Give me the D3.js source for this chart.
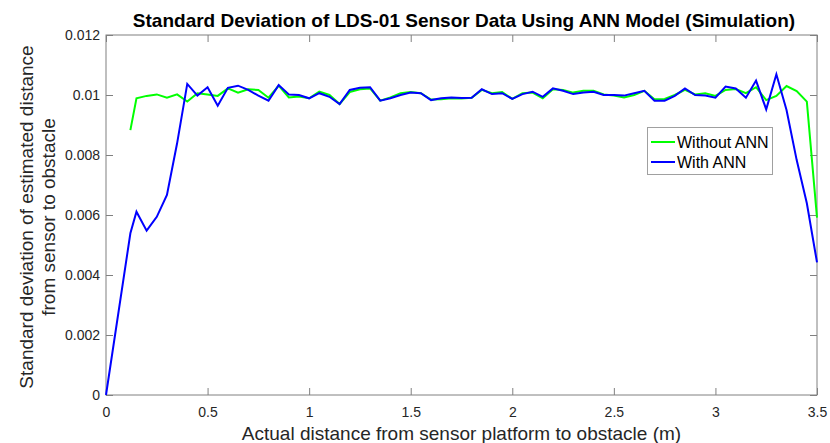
<!DOCTYPE html>
<html><head><meta charset="utf-8">
<script src="https://cdn.jsdelivr.net/npm/d3@7"></script>
<style>body{margin:0;background:#fff}svg{display:block}text{font-family:"Liberation Sans",Arial,sans-serif}</style>
</head><body><svg id="c" width="830" height="443"></svg>
<script>
const xTicks=[0,0.5,1,1.5,2,2.5,3,3.5];
const yTicks=[0,0.002,0.004,0.006,0.008,0.01,0.012];
const xWith=[0,0.12,0.15,0.2,0.25,0.3,0.35,0.4,0.45,0.5,0.55,0.6,0.65,0.7,0.75,0.8,0.85,0.9,0.95,1.0,1.05,1.1,1.15,1.2,1.25,1.3,1.35,1.4,1.45,1.5,1.55,1.6,1.65,1.7,1.75,1.8,1.85,1.9,1.95,2.0,2.05,2.1,2.15,2.2,2.25,2.3,2.35,2.4,2.45,2.5,2.55,2.6,2.65,2.7,2.75,2.8,2.85,2.9,2.95,3.0,3.05,3.1,3.15,3.2,3.25,3.3,3.35,3.4,3.45,3.5];
const withANN=[0,0.00539,0.00611,0.00548,0.00594,0.00667,0.00839,0.01037,0.00998,0.01026,0.00964,0.01024,0.01031,0.01017,0.00998,0.00981,0.01033,0.01002,0.01,0.00989,0.01006,0.00994,0.0097,0.01017,0.01024,0.01026,0.00981,0.00989,0.01,0.01008,0.01006,0.00983,0.00989,0.00992,0.0099,0.00991,0.01019,0.01003,0.01006,0.00987,0.01003,0.01011,0.00994,0.01022,0.01014,0.01003,0.01008,0.01011,0.01,0.01,0.00998,0.01006,0.01014,0.00981,0.00981,0.00997,0.01022,0.01,0.00998,0.00991,0.01028,0.01022,0.00991,0.01048,0.00952,0.01069,0.0095,0.00783,0.00639,0.00442];
const xWithout=xWith.slice(1);
const withoutANN=[0.00883,0.00989,0.00997,0.01002,0.00991,0.01002,0.00978,0.01006,0.01002,0.00997,0.01022,0.01008,0.01019,0.01017,0.00991,0.01031,0.00992,0.00995,0.00989,0.01011,0.01,0.0097,0.0101,0.01019,0.01022,0.00981,0.00992,0.01006,0.0101,0.01006,0.00985,0.00986,0.00989,0.00988,0.00991,0.01017,0.01006,0.0101,0.00987,0.01006,0.01008,0.00989,0.01019,0.01017,0.01008,0.01014,0.01014,0.01002,0.00998,0.00992,0.01,0.01014,0.00986,0.00987,0.01,0.01017,0.01002,0.01006,0.00997,0.01017,0.0102,0.01006,0.01026,0.00983,0.00997,0.0103,0.01013,0.00978,0.00591];
const seriesNames=["Without ANN","With ANN"];

const svg=d3.select("#c");
const L=106,R=817,T=35,B=395;
const x=d3.scaleLinear().domain([0,3.5]).range([L,R]);
const y=d3.scaleLinear().domain([0,0.012]).range([B,T]);
const axisCol="#808080", tk=7;

svg.append("rect").attr("x",L).attr("y",T).attr("width",R-L).attr("height",B-T).attr("fill","none").attr("stroke",axisCol).attr("stroke-width",1);
const gx=svg.append("g").attr("transform",`translate(0,${B})`).call(d3.axisBottom(x).tickValues(xTicks).tickSize(-tk).tickPadding(tk+5).tickFormat(d3.format("")));
const gy=svg.append("g").attr("transform",`translate(${L},0)`).call(d3.axisLeft(y).tickValues(yTicks).tickSize(-tk).tickPadding(6).tickFormat(d=>d===0?"0":d3.format(".3~f")(d)));
const gx2=svg.append("g").attr("transform",`translate(0,${T})`).call(d3.axisTop(x).tickValues(xTicks).tickSize(-tk).tickFormat(""));
const gy2=svg.append("g").attr("transform",`translate(${R},0)`).call(d3.axisRight(y).tickValues(yTicks).tickSize(-tk).tickFormat(""));
[gx,gy,gx2,gy2].forEach(g=>{g.select(".domain").remove();g.selectAll("line").attr("stroke",axisCol);g.selectAll("text").attr("fill","#262626").style("font-size","14px").style("font-family","'Liberation Sans',Arial,sans-serif");});

const line=d3.line();
svg.append("path").attr("d",line(xWithout.map((d,i)=>[x(d),y(withoutANN[i])]))).attr("fill","none").attr("stroke","#00ff00").attr("stroke-width",2);
svg.append("path").attr("d",line(xWith.map((d,i)=>[x(d),y(withANN[i])]))).attr("fill","none").attr("stroke","#0000ff").attr("stroke-width",2);

svg.append("text").attr("x",464).attr("y",27).attr("text-anchor","middle").attr("font-weight","bold").style("font-size","19px").attr("fill","#000").text("Standard Deviation of LDS-01 Sensor Data Using ANN Model (Simulation)");
svg.append("text").attr("x",(L+R)/2).attr("y",440).attr("text-anchor","middle").style("font-size","19px").attr("fill","#262626").text("Actual distance from sensor platform to obstacle (m)");
const yl=svg.append("text").attr("transform",`translate(0,${(T+B)/2+2}) rotate(-90)`).attr("text-anchor","middle").style("font-size","19px").attr("fill","#262626");
yl.append("tspan").attr("x",0).attr("y",33).text("Standard deviation of estimated distance");
yl.append("tspan").attr("x",0).attr("y",55).text("from sensor to obstacle");

const lg=svg.append("g");
lg.append("rect").attr("x",647.5).attr("y",127.5).attr("width",125).attr("height",47).attr("fill","#fff").attr("stroke","#a0a0a0");
const cols=["#00ff00","#0000ff"];
seriesNames.forEach((n,i)=>{
  const yy=142+i*20;
  lg.append("line").attr("x1",651).attr("x2",675).attr("y1",yy).attr("y2",yy).attr("stroke",cols[i]).attr("stroke-width",2);
  lg.append("text").attr("x",677).attr("y",yy+6).style("font-size","16px").attr("fill","#000").text(n);
});
</script></body></html>
